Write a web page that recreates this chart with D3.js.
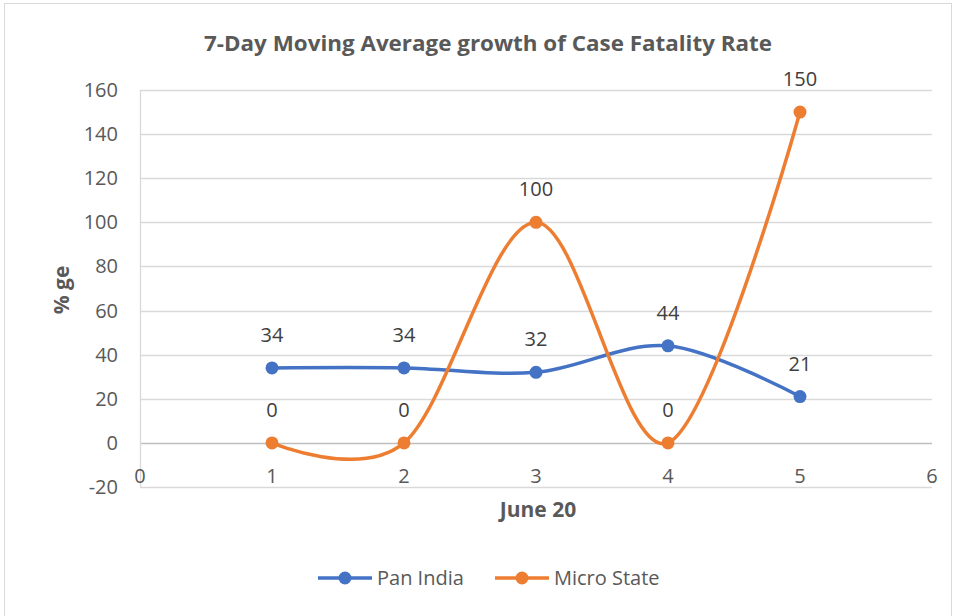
<!DOCTYPE html>
<html>
<head>
<meta charset="utf-8">
<script src="https://cdn.jsdelivr.net/npm/d3@7"></script>
<style>
  body { margin: 0; background: #fff; }
  text { font-family: "Open Sans", "Noto Sans", sans-serif; }
</style>
</head>
<body>
<svg id="chart" width="956" height="616"></svg>
<script>
// chart data
const days = [1, 2, 3, 4, 5]
const panIndia = [34, 34, 32, 44, 21]
const microState = [0, 0, 100, 0, 150]
const yTicks = [-20, 0, 20, 40, 60, 80, 100, 120, 140, 160]
const xTicks = [0, 1, 2, 3, 4, 5, 6]
const seriesNames = ["Pan India", "Micro State"]

const BLUE = "#4472C4", ORANGE = "#ED7D31"
const PLOT = {left: 140, right: 932, top: 90, bottom: 487}

const svg = d3.select("#chart")

// outer chart border
svg.append("rect").attr("x", 4.5).attr("y", 3.5).attr("width", 947).attr("height", 620)
  .attr("fill", "#fff").attr("stroke", "#d9d9d9")

const x = d3.scaleLinear().domain([0, 6]).range([PLOT.left, PLOT.right])
const y = d3.scaleLinear().domain([-20, 160]).range([PLOT.bottom, PLOT.top])

// gridlines
svg.append("g").attr("class", "grid")
  .selectAll("line").data(yTicks).join("line")
  .attr("x1", PLOT.left).attr("x2", PLOT.right)
  .attr("y1", d => Math.round(y(d)) + 0.5).attr("y2", d => Math.round(y(d)) + 0.5)
  .attr("stroke", d => d === 0 ? "#bfbfbf" : "#d9d9d9").attr("stroke-width", 1.3)

// vertical axis line
svg.append("line").attr("x1", PLOT.left + 0.5).attr("x2", PLOT.left + 0.5)
  .attr("y1", PLOT.top).attr("y2", PLOT.bottom)
  .attr("stroke", "#d9d9d9").attr("stroke-width", 1.3)

// y tick labels
svg.append("g").selectAll("text").data(yTicks).join("text")
  .attr("x", PLOT.left - 22).attr("y", d => y(d)).attr("dy", "0.35em")
  .attr("text-anchor", "end").attr("font-size", 20).attr("fill", "#595959")
  .text(d => d)

// x tick labels (sit just under the zero line)
svg.append("g").selectAll("text").data(xTicks).join("text")
  .attr("x", d => x(d)).attr("y", y(0) + 40)
  .attr("text-anchor", "middle").attr("font-size", 20).attr("fill", "#595959")
  .text(d => d)

// titles
svg.append("text").attr("x", 488).attr("y", 51).attr("text-anchor", "middle")
  .attr("font-size", 22).attr("font-weight", "bold").attr("fill", "#595959")
  .attr("textLength", 568).attr("lengthAdjust", "spacingAndGlyphs")
  .text("7-Day Moving Average growth of Case Fatality Rate")
svg.append("text").attr("x", 538).attr("y", 517).attr("text-anchor", "middle")
  .attr("font-size", 21).attr("font-weight", "bold").attr("fill", "#595959")
  .text("June 20")
svg.append("text").attr("transform", "translate(69,290) rotate(-90)").attr("text-anchor", "middle")
  .attr("font-size", 21).attr("font-weight", "bold").attr("fill", "#595959")
  .text("% ge")

// smoothed lines
const line = d3.line().x(d => x(d[0])).y(d => y(d[1])).curve(d3.curveCardinal.tension(0))
const series = [
  {name: seriesNames[0], color: BLUE, values: panIndia},
  {name: seriesNames[1], color: ORANGE, values: microState}
]

series.forEach(s => {
  const pts = days.map((d, i) => [d, s.values[i]])
  svg.append("path").datum(pts).attr("d", line)
    .attr("fill", "none").attr("stroke", s.color).attr("stroke-width", 3.5)
    .attr("stroke-linecap", "round")
  svg.append("g").selectAll("circle").data(pts).join("circle")
    .attr("cx", d => x(d[0])).attr("cy", d => y(d[1])).attr("r", 6.5)
    .attr("fill", s.color)
  svg.append("g").selectAll("text").data(pts).join("text")
    .attr("x", d => x(d[0])).attr("y", d => y(d[1]) - 26)
    .attr("text-anchor", "middle").attr("font-size", 20).attr("fill", "#404040")
    .text(d => d[1])
})

// legend
const legend = svg.append("g")
const legendPos = [318, 495]
series.forEach((s, i) => {
  const g = legend.append("g").attr("transform", `translate(${legendPos[i]},578)`)
  g.append("line").attr("x1", 0).attr("x2", 54).attr("stroke", s.color).attr("stroke-width", 3.5)
  g.append("circle").attr("cx", 27).attr("r", 6.5).attr("fill", s.color)
  g.append("text").attr("x", 59).attr("dy", "0.35em").attr("font-size", 20).attr("fill", "#595959")
    .text(s.name)
})
</script>
</body>
</html>
